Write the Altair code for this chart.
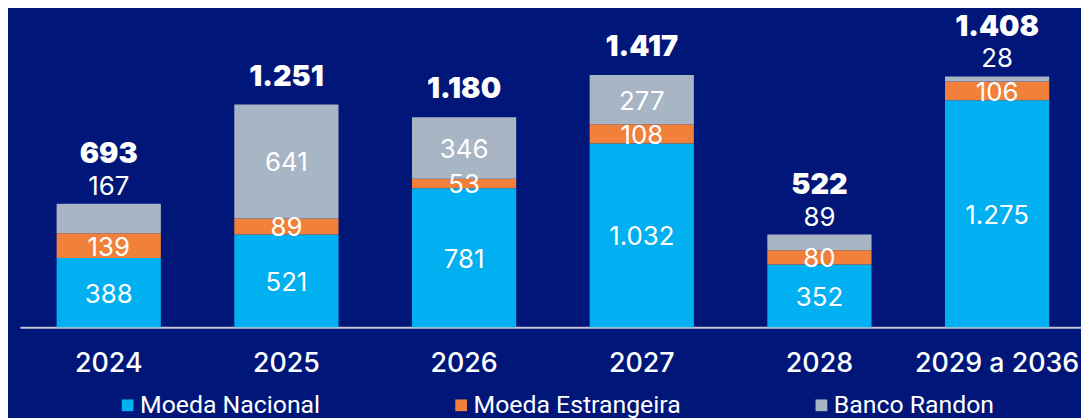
import altair as alt
import pandas as pd

years = ["2024", "2025", "2026", "2027", "2028", "2029 a 2036"]
series = ["Moeda Nacional", "Moeda Estrangeira", "Banco Randon"]
nacional = [388, 521, 781, 1032, 352, 1275]
estrangeira = [139, 89, 53, 108, 80, 106]
randon = [167, 641, 346, 277, 89, 28]
totals = [693, 1251, 1180, 1417, 522, 1408]
colors = ["#00b0f0", "#f0803a", "#a7b5c5"]
bg = "#011679"


def fmt(v):
    return f"{v:,}".replace(",", ".")


rows = []
tot_rows = []
for i, yr in enumerate(years):
    vals = [nacional[i], estrangeira[i], randon[i]]
    start = 0
    for s, v in zip(series, vals):
        end = start + v
        outside = (s == "Banco Randon") and v < 200
        rows.append(dict(year=yr, series=s, value=v, start=start, end=end,
                         mid=(start + end) / 2, label=fmt(v), outside=outside))
        start = end
    tot_rows.append(dict(year=yr, top=start, label=fmt(totals[i]),
                         raised=randon[i] < 200))

df = pd.DataFrame(rows)
tdf = pd.DataFrame(tot_rows)

xscale = alt.Scale(paddingInner=0.4134, paddingOuter=0.1927, align=0.536)
xaxis = alt.Axis(title=None, labelAngle=0, ticks=False, tickSize=0,
                 labelPadding=45, labelBaseline="alphabetic",
                 labelFont="Inter", labelFontSize=27, labelFontWeight=500,
                 labelColor="white", labelLimit=400, labelOverlap=False,
                 domainColor="#c4c6d2", domainWidth=2, grid=False)
xenc = alt.X("year:N", sort=years, scale=xscale, axis=xaxis)
yscale = alt.Scale(domain=[0, 1785], nice=False, zero=True)

bars = alt.Chart(df).mark_bar().encode(
    x=xenc,
    y=alt.Y("start:Q", scale=yscale, axis=None),
    y2="end:Q",
    color=alt.Color(
        "series:N", sort=series,
        scale=alt.Scale(domain=series, range=colors),
        legend=alt.Legend(
            orient="none", legendX=96, legendY=386, direction="horizontal",
            columns=3, title=None, symbolType="square", symbolSize=140,
            symbolStrokeWidth=0, labelFont="Roboto", labelFontSize=25,
            labelColor="white", columnPadding=129, labelOffset=0,
            padding=0, labelLimit=400,
        ),
    ),
)

inside = alt.Chart(df).transform_filter("!datum.outside").mark_text(
    font="Inter", fontSize=26, color="white", baseline="middle", dy=2
).encode(
    x=xenc, y=alt.Y("mid:Q", scale=yscale), text="label:N"
)

outside = alt.Chart(df).transform_filter("datum.outside").mark_text(
    font="Inter", fontSize=26, color="white", baseline="middle", dy=-17
).encode(
    x=xenc, y=alt.Y("end:Q", scale=yscale), text="label:N"
)

tot_a = alt.Chart(tdf).transform_filter("!datum.raised").mark_text(
    font="Inter", fontSize=29, fontWeight=900, color="white", baseline="middle", dy=-28
).encode(
    x=xenc, y=alt.Y("top:Q", scale=yscale), text="label:N"
)

tot_b = alt.Chart(tdf).transform_filter("datum.raised").mark_text(
    font="Inter", fontSize=29, fontWeight=900, color="white", baseline="middle", dy=-50
).encode(
    x=xenc, y=alt.Y("top:Q", scale=yscale), text="label:N"
)

chart = alt.layer(bars, inside, outside, tot_a, tot_b).properties(
    width=1069, height=320,
    padding={"left": 12, "top": 0, "right": 0, "bottom": 90},
    autosize="none",
    background=bg,
).configure_view(stroke=None)

chart.save("out.html", embed_options={"renderer": "svg", "actions": False})
